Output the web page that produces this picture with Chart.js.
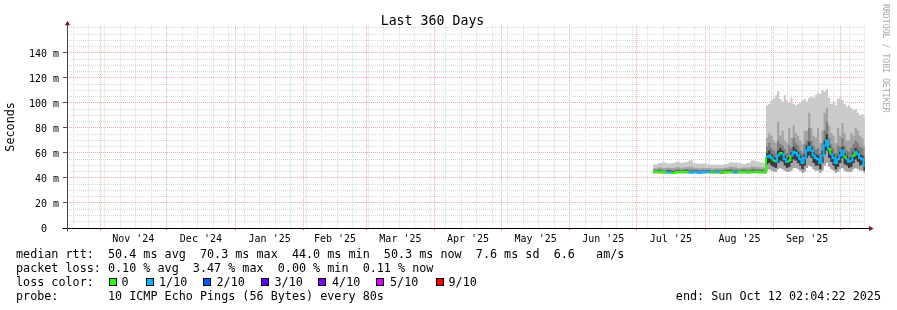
<!DOCTYPE html>
<html><head><meta charset="utf-8">
<script src="https://cdn.jsdelivr.net/npm/chart.js@4/dist/chart.umd.min.js"></script>
<style>
html,body{margin:0;padding:0;background:#fff;}
#wrap{position:relative;width:897px;height:310px;overflow:hidden;background:#fff;}
canvas{position:absolute;left:0;top:0;}
.t{position:absolute;font-family:'DejaVu Sans Mono',monospace;font-size:11.75px;line-height:14px;white-space:pre;color:#000;}
.box{position:absolute;width:6px;height:6px;border:1px solid #000;}
#wm{position:absolute;left:881px;top:4px;writing-mode:vertical-rl;font-family:'DejaVu Sans Mono',monospace;font-size:8.2px;line-height:10px;color:#a8a8a8;white-space:pre;}
</style></head>
<body>
<div id="wrap">
<canvas id="c" width="897" height="310"></canvas>
<div id="legend"></div>
<div id="wm">RRDTOOL / TOBI OETIKER</div>
</div>
<script>
// ---------------- data ----------------
const startISO = '2024-10-17T02:04:22Z';
const endISO   = '2025-10-12T02:04:22Z';
const titleText = 'Last 360 Days';
const yTitle = 'Seconds';

const monthStarts = ['2024-11-01','2024-12-01','2025-01-01','2025-02-01','2025-03-01','2025-04-01',
                     '2025-05-01','2025-06-01','2025-07-01','2025-08-01','2025-09-01','2025-10-01'];
const monthLabels = ["Nov '24","Dec '24","Jan '25","Feb '25","Mar '25","Apr '25",
                     "May '25","Jun '25","Jul '25","Aug '25","Sep '25"];
const firstSunday = '2024-10-20';

const yMajorValues = [0,20,40,60,80,100,120,140];
const yMajorLabels = ['0  ','20 m','40 m','60 m','80 m','100 m','120 m','140 m'];
const yMinorStep = 5;
const yTop = 161.6;

// sample times (2025, "MM-DD HH" UTC)
const sampleTimes = [
 '07-08 12','07-10 12','07-12 12','07-14 12','07-16 12','07-18 12','07-20 12','07-22 12','07-24 12','07-26 12',
 '07-28 12','07-30 12','08-01 12','08-03 12','08-05 12','08-07 12','08-09 12','08-11 12','08-13 12','08-15 12',
 '08-17 12','08-19 12','08-21 12','08-23 12','08-25 12','08-27 12',
 '08-28 10','08-29 10','08-30 10','08-31 10','09-01 10','09-02 10','09-03 10','09-04 10','09-05 10','09-06 10',
 '09-07 10','09-08 10','09-09 10','09-10 10','09-11 10','09-12 10','09-13 10','09-14 10','09-15 10','09-16 10',
 '09-17 10','09-18 10','09-19 10','09-20 10','09-21 10','09-22 10','09-23 10','09-24 10','09-25 10','09-26 10',
 '09-27 10','09-28 10','09-29 10','09-30 10','10-01 10','10-02 10','10-03 10','10-04 10','10-05 10','10-06 10',
 '10-07 10','10-08 10','10-09 10','10-10 10','10-11 10'
];

// median rtt (ms)
const medianMs = [
 44.8,44.9,44.7,44.6,44.0,44.8,44.7,44.9,44.6,44.8,44.5,44.7,44.8,44.6,44.7,44.5,44.8,44.9,44.6,44.7,44.8,44.6,44.9,44.7,44.8,44.6,
 57,58,56,54,53,58,60,59,55,53,54,58,61,60,58,55,52,56,62,65,62,58,56,55,52,58,66,70,63,59,56,52,55,58,62,57,55,53,54,58,61,59,56,55,50
];
// loss index into lossColors (0 = no loss, 1 = 1/10)
const lossIdx = [
 0,0,0,1,0,0,0,0,1,1,1,1,1,0,1,0,0,0,1,0,0,0,0,0,0,0,
 1,1,1,0,1,1,0,1,1,1,0,1,1,1,1,1,1,1,1,1,1,1,1,1,1,1,1,1,0,1,1,1,1,1,1,0,1,1,1,0,1,1,1,1,1
];
// smoke boundaries (ms)
const minMs = [
 43.5,43.6,43.4,43.5,43.2,43.6,43.5,43.7,43.4,43.6,43.3,43.5,43.6,43.4,43.5,43.3,43.6,43.7,43.4,43.5,43.6,43.4,43.7,43.5,43.6,43.4,
 46,47,46,45,45,47,48,47,46,45,45,46,48,48,47,46,44,45,48,50,49,47,46,46,44,46,50,52,49,47,46,44,45,47,48,46,45,45,45,47,48,47,46,46,44
];
const lowMs = [
 44.1,44.2,44.0,43.9,43.6,44.1,44.0,44.2,43.9,44.1,43.8,44.0,44.1,43.9,44.0,43.8,44.1,44.2,43.9,44.0,44.1,43.9,44.2,44.0,44.1,43.9,
 51,52,50,49,48,52,54,53,50,48,49,52,55,54,52,50,47,50,56,58,56,52,50,50,47,52,59,62,56,53,50,47,49,52,56,51,50,48,49,52,55,53,50,51,46
];
const coreHiMs = [
 45.6,45.8,45.5,45.9,45.2,45.7,45.6,46.0,45.5,45.7,45.4,45.6,45.7,45.5,45.6,45.4,45.7,45.9,45.5,45.6,45.8,45.5,46.0,45.6,45.8,45.5,
 60,62,59,57,56,62,64,62,58,56,57,61,65,63,61,58,55,59,66,69,65,61,59,58,55,62,70,75,66,62,59,55,58,61,65,60,58,56,57,61,64,62,59,58,53
];
const midHiMs = [
 46.5,46.9,46.4,46.8,46.2,47.0,46.6,47.2,46.8,46.5,46.3,46.6,46.4,46.2,46.5,46.3,46.7,47.1,46.6,46.5,46.8,46.6,47.4,46.9,46.7,46.5,
 65,68,64,62,60,70,67,66,63,60,66,64,72,68,66,62,60,67,70,80,70,66,63,64,60,68,78,85,72,67,64,60,66,65,72,66,62,61,64,67,70,68,65,64,58
];
const outerHiMs = [
 47.8,48.4,48.0,48.2,47.9,48.8,48.2,48.6,49.0,48.1,47.8,48.0,47.9,47.6,47.8,47.7,48.2,48.9,48.5,48.0,48.3,48.4,49.2,48.8,48.4,48.1,
 72,76,74,70,68,85,74,78,70,68,80,72,82,76,74,70,67,78,78,92,80,74,72,80,68,78,92,96,82,76,74,68,80,74,84,76,70,70,76,74,80,78,74,72,66
];
const maxMs = [
 51.0,52.0,52.3,51.5,52.0,53.0,52.2,52.8,54.2,51.8,51.4,51.6,51.0,50.6,50.8,50.5,51.2,52.6,52.3,51.8,51.2,52.0,54.0,53.2,52.4,52.0,
 98,99,102,103,106,109,103,101,106,102,100,104,99,98,99,100,102,103,101,104,105,104,106,108,107,110,109,111,104,99,101,98,103,104,102,99,97,98,96,94,95,92,90,91,89
];

const lossColors = ['#26ff00','#00b8ff','#0059ff','#5e00ff','#7e00ff','#dd00ff','#ff0000'];
const lossLabels = ['0','1/10','2/10','3/10','4/10','5/10','9/10'];
const smokeColors = ['#cacaca','#a4a4a4','#7e7e7e','#3a3a3a'];

const legendLines = [
 'median rtt:  50.4 ms avg  70.3 ms max  44.0 ms min  50.3 ms now  7.6 ms sd  6.6   am/s',
 'packet loss: 0.10 % avg  3.47 % max  0.00 % min  0.11 % now',
 'loss color:',
 'probe:       10 ICMP Echo Pings (56 Bytes) every 80s'
];
const endText = 'end: Sun Oct 12 02:04:22 2025';

// ---------------- helpers ----------------
const DAY = 86400000;
const T0 = Date.parse(startISO);
const T1 = Date.parse(endISO);
const spanDays = (T1 - T0) / DAY;
const dayOf = iso => (Date.parse(iso) - T0) / DAY;
const sampleDay = s => dayOf('2025-' + s.slice(0,5) + 'T' + s.slice(6) + ':00:00Z');
const xs = sampleTimes.map(sampleDay);

function series(vals){
  const pts = vals.map((v,i)=>({x: xs[i], y: v}));
  pts.push({x: spanDays, y: vals[vals.length-1]});
  return pts;
}

// x ticks: weekly minor, monthly major, mid-month labels
const monthDays = monthStarts.map(m => dayOf(m + 'T00:00:00Z'));
const xTicks = [];
for (let d = dayOf(firstSunday + 'T00:00:00Z'); d < spanDays; d += 7) {
  if (!monthDays.some(m => Math.abs(m - d) < 0.5)) xTicks.push({value: d, kind: 'minor'});
}
monthDays.forEach(d => xTicks.push({value: d, kind: 'major'}));
monthLabels.forEach((l, i) => xTicks.push({value: (monthDays[i] + monthDays[i+1]) / 2, kind: 'label', label: l}));
xTicks.sort((a,b)=>a.value-b.value);

const yTicks = [];
for (let v = 0; v < yTop - 1; v += yMinorStep) {
  const mi = yMajorValues.indexOf(v);
  yTicks.push({value: v, kind: mi >= 0 ? 'major' : 'minor', label: mi >= 0 ? yMajorLabels[mi] : ''});
}

const MINOR = '#d8d8d8', MAJOR = '#f0a8a8';
const mono = 'DejaVu Sans Mono';

const deco = {
  id: 'deco',
  afterDraw(chart){
    const {ctx, chartArea: a} = chart;
    const L = Math.round(a.left) + 0.5, B = Math.round(a.bottom) + 0.5, R = Math.round(a.right);
    ctx.save();
    ctx.lineWidth = 1;
    ctx.strokeStyle = '#000';
    ctx.beginPath();
    ctx.moveTo(L - 5, B); ctx.lineTo(R + 4, B);
    ctx.stroke();
    ctx.strokeStyle = '#444';
    ctx.beginPath();
    ctx.moveTo(L, B + 3); ctx.lineTo(L, a.top - 2);
    ctx.stroke();
    ctx.fillStyle = '#7f1010';
    ctx.beginPath();
    ctx.moveTo(L, a.top - 5); ctx.lineTo(L - 2.5, a.top - 0.5); ctx.lineTo(L + 2.5, a.top - 0.5); ctx.closePath();
    ctx.fill();
    ctx.beginPath();
    ctx.moveTo(R + 8.5, B); ctx.lineTo(R + 4, B - 2.5); ctx.lineTo(R + 4, B + 2.5); ctx.closePath();
    ctx.fill();
    ctx.restore();
  }
};

new Chart(document.getElementById('c'), {
  type: 'line',
  data: {
    datasets: [
      { data: series(medianMs), borderWidth: 2, stepped: true, pointRadius: 0, fill: false,
        borderColor: lossColors[0],
        segment: { borderColor: c => lossColors[lossIdx[c.p0DataIndex]] || lossColors[0] } },
      { data: series(coreHiMs), borderWidth: 0, borderColor: 'rgba(0,0,0,0)', stepped: true, pointRadius: 0, fill: 5, backgroundColor: smokeColors[3] },
      { data: series(midHiMs), borderWidth: 0, borderColor: 'rgba(0,0,0,0)', stepped: true, pointRadius: 0, fill: 5, backgroundColor: smokeColors[2] },
      { data: series(outerHiMs), borderWidth: 0, borderColor: 'rgba(0,0,0,0)', stepped: true, pointRadius: 0, fill: 6, backgroundColor: smokeColors[1] },
      { data: series(maxMs), borderWidth: 0, borderColor: 'rgba(0,0,0,0)', stepped: true, pointRadius: 0, fill: 6, backgroundColor: smokeColors[0] },
      { data: series(lowMs), borderWidth: 0, borderColor: 'rgba(0,0,0,0)', stepped: true, pointRadius: 0, fill: false },
      { data: series(minMs), borderWidth: 0, borderColor: 'rgba(0,0,0,0)', stepped: true, pointRadius: 0, fill: false }
    ]
  },
  options: {
    responsive: false,
    animation: false,
    devicePixelRatio: 1,
    layout: { padding: { left: 0, right: 32, top: 0, bottom: 0 } },
    plugins: {
      legend: { display: false },
      tooltip: { enabled: false },
      title: { display: true, text: titleText, color: '#000',
               font: { family: mono, size: 13.25, weight: 'normal', lineHeight: 0.7 },
               padding: { top: 16.5, bottom: 0 } }
    },
    scales: {
      x: {
        type: 'linear', min: 0, max: spanDays, offset: false,
        afterBuildTicks: s => { s.ticks = xTicks.map(t => ({value: t.value})); },
        afterFit: s => { s.height = 82; },
        border: { display: false, dash: [1,1] },
        grid: {
          color: c => { const t = xTicks[c.index]; return !t ? 'rgba(0,0,0,0)' : t.kind === 'major' ? MAJOR : t.kind === 'minor' ? MINOR : 'rgba(0,0,0,0)'; },
          tickColor: c => { const t = xTicks[c.index]; return t && t.kind === 'major' ? '#e04040' : 'rgba(0,0,0,0)'; },
          tickLength: 2, lineWidth: 1, tickBorderDash: []
        },
        ticks: {
          autoSkip: false, maxRotation: 0, minRotation: 0, padding: 3, color: '#000',
          font: { family: mono, size: 10 },
          callback: (v, i) => (xTicks[i] && xTicks[i].label) || ''
        }
      },
      y: {
        type: 'linear', min: 0, max: yTop,
        afterBuildTicks: s => { s.ticks = yTicks.map(t => ({value: t.value})); },
        afterFit: s => { s.width = 67; },
        border: { display: false, dash: [1,1] },
        grid: {
          color: c => { const t = yTicks[c.index]; return !t || t.value === 0 ? 'rgba(0,0,0,0)' : t.kind === 'major' ? MAJOR : MINOR; },
          tickColor: c => { const t = yTicks[c.index]; return t && t.kind === 'major' ? '#555' : 'rgba(0,0,0,0)'; },
          tickLength: 4, lineWidth: 1, tickBorderDash: []
        },
        ticks: {
          autoSkip: false, padding: 4, color: '#000', labelOffset: 1.5,
          font: { family: mono, size: 10 },
          callback: (v, i) => (yTicks[i] && yTicks[i].label) || ''
        },
        title: { display: true, text: yTitle, color: '#000',
                 font: { family: mono, size: 11.75, weight: 'normal', lineHeight: 1.2 },
                 padding: { top: 4, bottom: 0 } }
      }
    }
  },
  plugins: [deco]
});

// ---------------- legend (text) ----------------
const lg = document.getElementById('legend');
const tops = [247, 261, 275, 289];
legendLines.forEach((s, i) => {
  const d = document.createElement('div');
  d.className = 't'; d.style.left = '16px'; d.style.top = tops[i] + 'px'; d.textContent = s;
  lg.appendChild(d);
});
const boxX = [109, 146, 203, 261, 318, 376, 436];
const labX = [121.5, 159, 216.5, 274.5, 332, 390, 448.5];
lossColors.forEach((col, i) => {
  const b = document.createElement('div');
  b.className = 'box'; b.style.left = boxX[i] + 'px'; b.style.top = '278px'; b.style.background = col;
  lg.appendChild(b);
  const t = document.createElement('div');
  t.className = 't'; t.style.left = labX[i] + 'px'; t.style.top = tops[2] + 'px'; t.textContent = lossLabels[i];
  lg.appendChild(t);
});
const e = document.createElement('div');
e.className = 't'; e.style.right = '16px'; e.style.top = tops[3] + 'px'; e.textContent = endText;
lg.appendChild(e);
</script>
</body></html>
